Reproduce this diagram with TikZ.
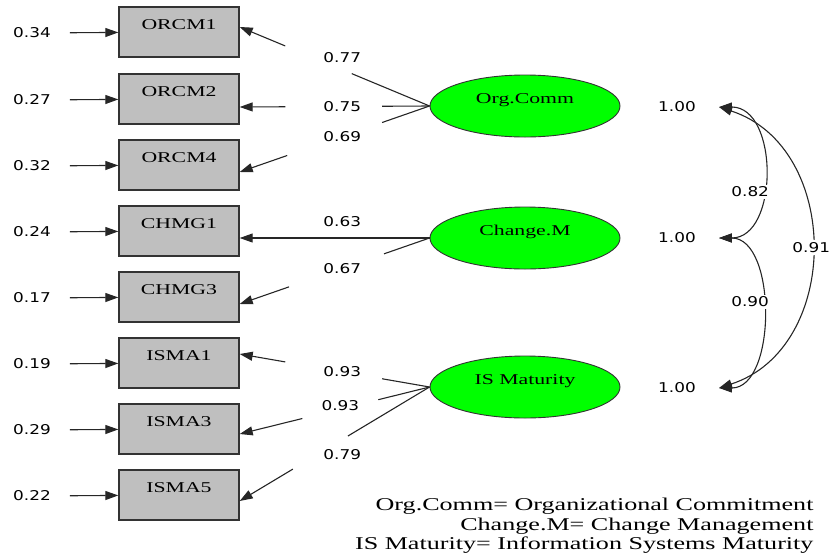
\documentclass[tikz,border=0pt]{standalone}
\usepackage{fontspec}
\setmainfont{Liberation Serif}[FakeStretch=1.45]
\newfontfamily\numfont{DejaVu Sans}[FakeStretch=1.25]
\usetikzlibrary{shapes.geometric, arrows.meta, calc}

\begin{document}
\begin{tikzpicture}[x=1pt, y=-1pt]
	\tikzstyle{indicator} = [rectangle, minimum width=120pt, minimum height=50pt, 
	text height=10pt, text depth=15pt, draw=black!80, line width=1.4pt, 
	fill=black!25, font=\fontsize{15}{18}\selectfont]
	\tikzstyle{latent} = [ellipse, minimum width=190pt, minimum height=62pt, 
	inner sep=0pt, text height=10pt, text depth=16pt, draw=black!80, 
	line width=0.9pt, fill=green, font=\fontsize{15}{18}\selectfont]
	\tikzstyle{coef} = [font=\numfont\fontsize{13.5}{16}\selectfont, inner sep=2pt]
	\tikzstyle{line} = [line width=1.1pt, draw=black!85]
	\tikzstyle{arrow} = [line, -{Triangle[length=13pt,width=9pt]}]
	\tikzstyle{corr} = [line, {Triangle[length=13pt,width=9pt]}-{Triangle[length=13pt,width=9pt]}]
	\useasboundingbox (0,0) rectangle (840,558);
	% observed variables
	\node (orcm1) [indicator] at (179,32) {ORCM1};
	\node (orcm2) [indicator] at (179,99) {ORCM2};
	\node (orcm4) [indicator] at (179,165) {ORCM4};
	\node (chmg1) [indicator] at (179,231) {CHMG1};
	\node (chmg3) [indicator] at (179,297) {CHMG3};
	\node (isma1) [indicator] at (179,363) {ISMA1};
	\node (isma3) [indicator] at (179,429) {ISMA3};
	\node (isma5) [indicator] at (179,495) {ISMA5};
	% error variances
	\node (err1) [coef] at (32,33) {0.34};
	\node (err2) [coef] at (32,100) {0.27};
	\node (err3) [coef] at (32,166) {0.32};
	\node (err4) [coef] at (32,232) {0.24};
	\node (err5) [coef] at (32,298) {0.17};
	\node (err6) [coef] at (32,364) {0.19};
	\node (err7) [coef] at (32,430) {0.29};
	\node (err8) [coef] at (32,496) {0.22};
	\draw [arrow, shorten <=17pt] (err1) -- (orcm1);
	\draw [arrow, shorten <=17pt] (err2) -- (orcm2);
	\draw [arrow, shorten <=17pt] (err3) -- (orcm4);
	\draw [arrow, shorten <=17pt] (err4) -- (chmg1);
	\draw [arrow, shorten <=17pt] (err5) -- (chmg3);
	\draw [arrow, shorten <=17pt] (err6) -- (isma1);
	\draw [arrow, shorten <=17pt] (err7) -- (isma3);
	\draw [arrow, shorten <=17pt] (err8) -- (isma5);
	% latent variables
	\node (orgComm) [latent] at (525,106) {Org.Comm};
	\node (changeM) [latent] at (525,238) {Change.M};
	\node (isMat) [latent] at (525,387) {IS Maturity};
	% arrow ends on the boxes
	\coordinate (t1) at ([yshift=5pt]orcm1.east);
	\coordinate (t2) at ([yshift=-8pt]orcm2.east);
	\coordinate (t3) at ([yshift=-7pt]orcm4.east);
	\coordinate (t4) at (chmg1.east |- changeM.west);
	\coordinate (t5) at ([yshift=-7pt]chmg3.east);
	\coordinate (t6) at ([yshift=9pt]isma1.east);
	\coordinate (t7) at ([yshift=-5pt]isma3.east);
	\coordinate (t8) at ([yshift=-6pt]isma5.east);
	% loadings
	\draw [line] (orgComm.west) -- ($(orgComm.west)!0.41!(t1)$);
	\draw [arrow] ($(orgComm.west)!0.76!(t1)$) -- (t1);
	\node [coef, yshift=12pt] at ($(orgComm.west)!0.46!(t1)$) {0.77};
	\draw [line] (orgComm.west) -- ($(orgComm.west)!0.25!(t2)$);
	\draw [arrow] ($(orgComm.west)!0.76!(t2)$) -- (t2);
	\node [coef] at ($(orgComm.west)!0.46!(t2)$) {0.75};
	\draw [line] (orgComm.west) -- ($(orgComm.west)!0.25!(t3)$);
	\draw [arrow] ($(orgComm.west)!0.75!(t3)$) -- (t3);
	\node [coef] at ($(orgComm.west)!0.46!(t3)$) {0.69};
	\draw [arrow] (changeM.west) -- (t4);
	\node [coef, yshift=16pt] at ($(changeM.west)!0.46!(t4)$) {0.63};
	\draw [line] (changeM.west) -- ($(changeM.west)!0.24!(t5)$);
	\draw [arrow] ($(changeM.west)!0.74!(t5)$) -- (t5);
	\node [coef] at ($(changeM.west)!0.46!(t5)$) {0.67};
	\draw [line] (isMat.west) -- ($(isMat.west)!0.25!(t6)$);
	\draw [arrow] ($(isMat.west)!0.76!(t6)$) -- (t6);
	\node [coef] at ($(isMat.west)!0.46!(t6)$) {0.93};
	\draw [line] (isMat.west) -- ($(isMat.west)!0.27!(t7)$);
	\draw [arrow] ($(isMat.west)!0.67!(t7)$) -- (t7);
	\node [coef, yshift=4pt] at ($(isMat.west)!0.47!(t7)$) {0.93};
	\draw [line] (isMat.west) -- ($(isMat.west)!0.43!(t8)$);
	\draw [arrow] ($(isMat.west)!0.72!(t8)$) -- (t8);
	\node [coef, yshift=-15pt] at ($(isMat.west)!0.46!(t8)$) {0.79};
	% variances and correlations
	\node (var1) [coef] at (677,107) {1.00};
	\node (var2) [coef] at (677,238) {1.00};
	\node (var3) [coef] at (677,388) {1.00};
	\coordinate (c1) at ([xshift=21pt]var1.east);
	\coordinate (c2) at ([xshift=21pt]var2.east);
	\coordinate (c3) at ([xshift=21pt]var3.east);
	\draw [corr] (c1) .. controls +(60,0) and +(60,0) .. 
	node [coef, pos=0.6, xshift=-12pt, fill=white] {0.82} (c2);
	\draw [corr] (c2) .. controls +(58,0) and +(58,0) .. 
	node [coef, pos=0.45, xshift=-12pt, fill=white] {0.90} (c3);
	\draw [corr] (c1) .. controls +(123,40) and +(123,-40) .. 
	node [coef, pos=0.5, fill=white] {0.91} (c3);
	% legend
	\node (legend) [anchor=east, align=right, font=\fontsize{18}{19.5}\selectfont] 
	at (817,526) {Org.Comm= Organizational Commitment\\ 
	Change.M= Change Management\\ IS Maturity= Information Systems Maturity};
\end{tikzpicture}
\end{document}
